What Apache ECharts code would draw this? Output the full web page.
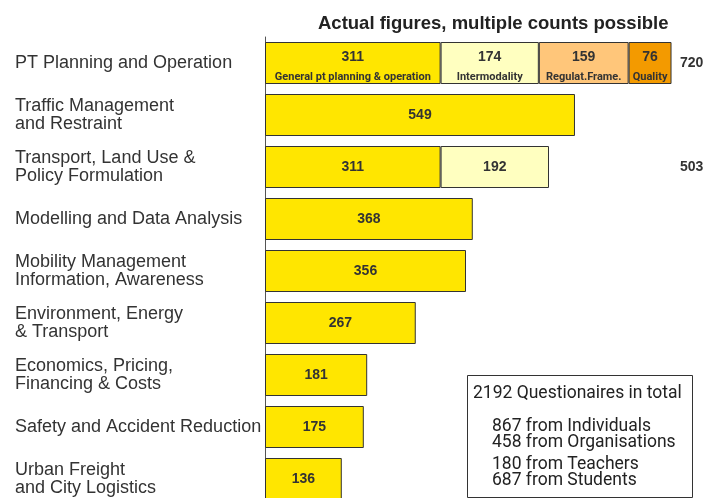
<!DOCTYPE html>
<html>
<head>
<meta charset="utf-8">
<script src="https://cdn.jsdelivr.net/npm/echarts@6/dist/echarts.min.js"></script>
<style>
  html, body { margin: 0; padding: 0; background: #fff; }
  #chart { width: 706px; height: 498px; }
</style>
</head>
<body>
<div id="chart"></div>
<script>
var topics = [
  'PT Planning and Operation',
  'Traffic Management\nand Restraint',
  'Transport, Land Use &\nPolicy Formulation',
  'Modelling and Data Analysis',
  'Mobility Management\nInformation, Awareness',
  'Environment, Energy\n& Transport',
  'Economics, Pricing,\nFinancing & Costs',
  'Safety and Accident Reduction',
  'Urban Freight\nand City Logistics'
];
// stacked parts, only the first rows are split
var part1 = [311, 549, 311, 368, 356, 267, 181, 175, 136];
var part2 = [174, null, 192, null, null, null, null, null, null];
var part3 = [159, null, null, null, null, null, null, null, null];
var part4 = [76, null, null, null, null, null, null, null, null];
var partNames = ['General pt planning & operation', 'Intermodality', 'Regulat.Frame.', 'Quality'];
var totals = ['720', '', '503', '', '', '', '', '', ''];
var boxLines = ['867 from Individuals', '458 from Organisations', '180 from Teachers', '687 from Students'];

var colors = ['#FFE600', '#FFFFC0', '#FFC67A', '#F39A00'];
var boxFont = '17.5px Roboto, "Liberation Sans", sans-serif';

function part(idx, data) {
  return {
    type: 'bar',
    stack: 'all',
    // first row carries a second line, push it down a bit
    data: data.map(function (v, i) {
      return i === 0 ? { value: v, label: { offset: [0, 4] } } : v;
    }),
    barWidth: 42,
    itemStyle: { color: colors[idx], borderColor: '#333', borderWidth: 1 },
    label: {
      show: true,
      position: 'inside',
      color: '#333',
      formatter: function (p) {
        if (p.dataIndex === 0) return '{v|' + p.value + '}\n{s|' + partNames[idx] + '}';
        return '{v|' + p.value + '}';
      },
      rich: {
        v: { fontFamily: 'Liberation Sans', fontWeight: 'bold', fontSize: 14, color: '#333', lineHeight: 20 },
        s: { fontFamily: 'Roboto', fontWeight: 'bold', fontSize: 11, color: '#333', lineHeight: 20 }
      }
    }
  };
}

var chart = echarts.init(document.getElementById('chart'));
chart.setOption({
  backgroundColor: '#fff',
  animation: false,
  title: {
    text: 'Actual figures, multiple counts possible',
    left: 313, top: 9,
    textStyle: { fontFamily: 'Liberation Sans', fontWeight: 'bold', fontSize: 18.5, color: '#222' }
  },
  grid: { left: 265, right: 26, top: 37, height: 468, outerBoundsMode: 'none' },
  xAxis: { type: 'value', min: 0, max: 735, show: false },
  yAxis: [{
    type: 'category',
    inverse: true,
    data: topics,
    axisTick: { show: false },
    axisLine: { lineStyle: { color: '#555', width: 1 } },
    axisLabel: {
      align: 'left', margin: 250,
      fontFamily: 'Liberation Sans', fontSize: 18, color: '#333', lineHeight: 18
    }
  }, {
    type: 'category',
    inverse: true,
    position: 'right',
    data: totals,
    axisTick: { show: false },
    axisLine: { show: false },
    axisLabel: {
      align: 'left', margin: 0,
      fontFamily: 'Liberation Sans', fontWeight: 'bold', fontSize: 14, color: '#333'
    }
  }],
  series: [part(0, part1), part(1, part2), part(2, part3), part(3, part4)],
  graphic: [{
    type: 'rect',
    shape: { x: 467.5, y: 375.5, width: 225, height: 122 },
    style: { fill: '#fff', stroke: '#333', lineWidth: 1 }
  }, {
    type: 'text', x: 473, y: 385,
    style: { text: '2192 Questionaires in total', font: boxFont, fill: '#222' }
  }, {
    type: 'text', x: 492, y: 419,
    style: { text: boxLines[0] + '\n' + boxLines[1], font: boxFont, fill: '#222', lineHeight: 16 }
  }, {
    type: 'text', x: 492, y: 457,
    style: { text: boxLines[2] + '\n' + boxLines[3], font: boxFont, fill: '#222', lineHeight: 16 }
  }]
});
</script>
</body>
</html>
